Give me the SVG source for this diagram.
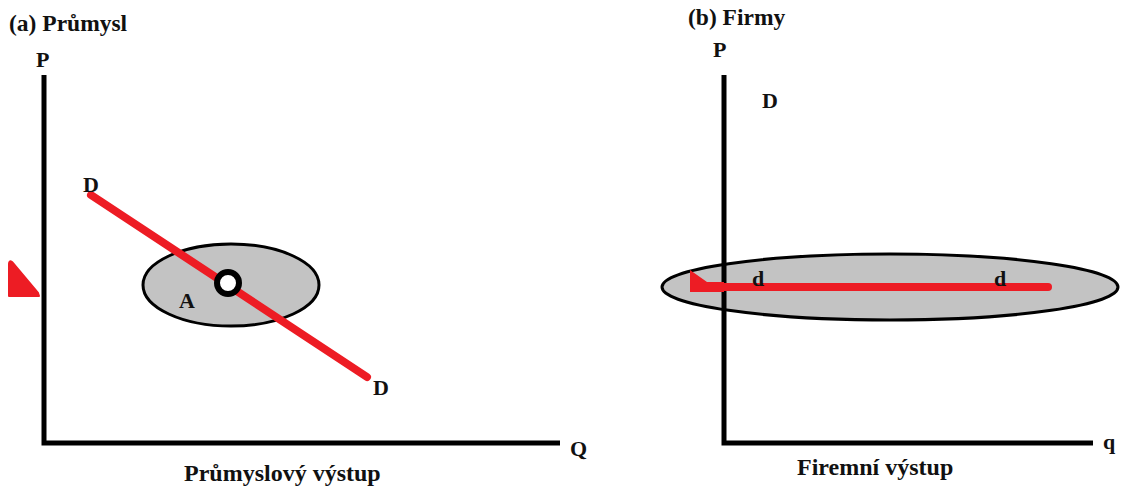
<svg xmlns="http://www.w3.org/2000/svg" width="1121" height="488" viewBox="0 0 1121 488">
<style>
.t{font-family:"Liberation Serif","Times New Roman",serif;font-weight:bold;fill:#111}
.ax{stroke:#000;stroke-width:5;fill:none}
.el{fill:#c3c3c3;stroke:#000;stroke-width:3}
.red{stroke:#ed1c24;stroke-width:8;stroke-linecap:round;fill:none}
</style>
<rect width="1121" height="488" fill="#fff"/>
<g id="panel-a">
<text class="t" x="9" y="31" font-size="23.5">(a) Průmysl</text>
<text class="t" x="36" y="67" font-size="22">P</text>
<text class="t" x="570" y="456" font-size="22">Q</text>
<text class="t" x="184" y="481" font-size="24">Průmyslový výstup</text>
</g>
<g id="panel-b">
<text class="t" x="688" y="25" font-size="23.5">(b) Firmy</text>
<text class="t" x="713" y="57" font-size="22">P</text>
<text class="t" x="762" y="108" font-size="22">D</text>
<text class="t" x="1103" y="449" font-size="22">q</text>
<text class="t" x="797" y="475" font-size="24">Firemní výstup</text>
</g>
<g id="ellipse-a"><ellipse class="el" cx="231" cy="285" rx="88" ry="41"/></g>
<g id="ellipse-b"><ellipse class="el" cx="890" cy="287" rx="228" ry="33"/></g>
<g id="connectors">
<path class="ax" d="M44 75 V443 H560"/>
<path class="ax" d="M724 75 V443 H1093"/>
<line class="red" x1="91" y1="195" x2="367" y2="377"/>
<line class="red" x1="724" y1="287" x2="1048" y2="287"/>
</g>
<g id="ring-A">
<circle cx="228" cy="283" r="11" fill="#fff" stroke="#000" stroke-width="6"/>
<text class="t" x="179" y="308" font-size="22">A</text>
</g>
<g id="labels-D">
<text class="t" x="83" y="192" font-size="22">D</text>
<text class="t" x="373" y="395" font-size="22">D</text>
<text class="t" x="752" y="286" font-size="22">d</text>
<text class="t" x="994" y="286" font-size="22">d</text>
</g>
<g id="markers">
<path d="M12 262 Q9 260 9 264 V296 H39 L38 293 Z" fill="#ed1c24" stroke="#ed1c24" stroke-width="2" stroke-linejoin="round"/>
<path d="M690 270 L707 282 H724 V292 H690 Z" fill="#ed1c24"/>
</g>
</svg>
